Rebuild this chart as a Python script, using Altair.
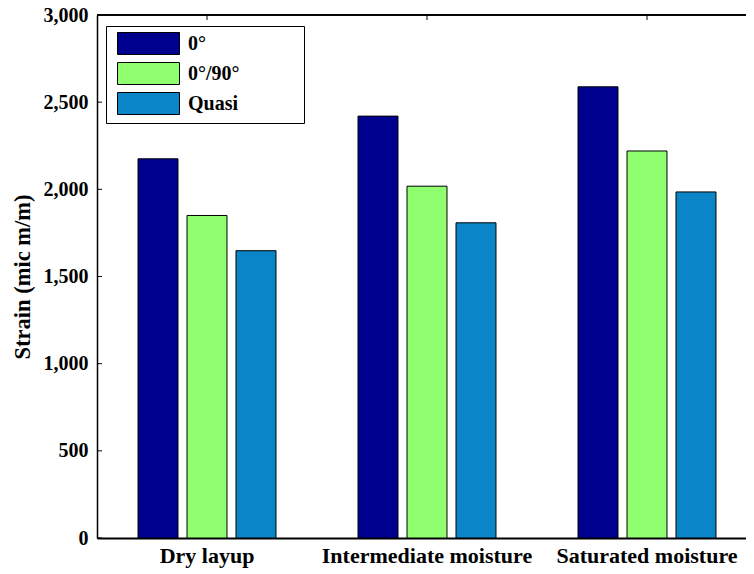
import altair as alt
import pandas as pd

categories = ["Dry layup", "Intermediate moisture", "Saturated moisture"]
series = ["0°", "0°/90°", "Quasi"]
v_0 = [2175, 2420, 2588]
v_090 = [1850, 2018, 2220]
v_quasi = [1648, 1808, 1985]
colors = ["#00008F", "#8FFF6F", "#0A85C8"]
y_ticks = [0, 500, 1000, 1500, 2000, 2500, 3000]

rows = []
for s, vals in zip(series, [v_0, v_090, v_quasi]):
    for c, v in zip(categories, vals):
        rows.append({"cat": c, "series": s, "value": v})
df = pd.DataFrame(rows)
tick_df = pd.DataFrame({"value": y_ticks})
cat_df = pd.DataFrame({"cat": categories})

FONT = "Liberation Serif"
W, H = 649, 523
FULLW = 660

xscale = alt.Scale(domain=categories, paddingInner=0, paddingOuter=0, range=[0, FULLW])
yscale = alt.Scale(domain=[0, 3000], nice=False)

bars = alt.Chart(df).mark_bar(stroke="black", strokeWidth=1).encode(
    x=alt.X("cat:N", scale=xscale, sort=categories,
            axis=alt.Axis(title=None, labelAngle=0, labelPadding=7, labelFontSize=22,
                          domain=True, domainColor="black", domainWidth=2)),
    xOffset=alt.XOffset("series:N", sort=series,
                        scale=alt.Scale(domain=series, paddingInner=0.184, paddingOuter=0.837)),
    y=alt.Y("value:Q", scale=yscale,
            axis=alt.Axis(title="Strain (mic m/m)", values=y_ticks, format=",.0f",
                          labelPadding=9, titlePadding=9, titleFontSize=22.5,
                          domain=True, domainColor="black", domainWidth=1.5)),
    color=alt.Color("series:N", sort=series,
                    scale=alt.Scale(domain=series, range=colors),
                    legend=alt.Legend(title="MMM", titleOrient="right", titlePadding=8,
                                      titleColor="transparent", titleFontSize=20,
                                      orient="none", legendX=9, legendY=11,
                                      labelFont=FONT, labelFontWeight="bold", labelFontSize=20,
                                      labelColor="black",
                                      symbolType="M-2.818,-1H2.818V1H-2.818Z", symbolSize=484,
                                      symbolOffset=25,
                                      symbolStrokeColor="black", symbolStrokeWidth=1,
                                      symbolOpacity=1, rowPadding=3, labelOffset=28,
                                      padding=6, strokeColor="black", fillColor="white")),
)

left_ticks = alt.Chart(tick_df).mark_rule(color="black", strokeWidth=1).encode(
    y=alt.Y("value:Q", scale=yscale), x=alt.value(0), x2=alt.value(5))
top_ticks = alt.Chart(cat_df).mark_rule(color="black", strokeWidth=1).encode(
    x=alt.X("cat:N", scale=xscale, sort=categories, bandPosition=0.5),
    y=alt.value(0), y2=alt.value(5))
top_line = alt.Chart(cat_df).mark_rule(color="black", strokeWidth=1.5).encode(
    x=alt.value(0), x2=alt.value(W), y=alt.value(0))

chart = alt.layer(bars, left_ticks, top_ticks, top_line).properties(
    width=W, height=H,
    autosize=alt.AutoSizeParams(type="none"),
    padding={"left": 89, "top": 7, "right": 0, "bottom": 30},
).configure(background="white").configure_view(
    stroke="transparent"
).configure_axis(
    labelFont=FONT, labelFontWeight="bold", labelFontSize=20, labelColor="black",
    labelLimit=0, titleFont=FONT, titleFontWeight="bold", titleFontSize=19,
    titleColor="black", tickSize=0, grid=False,
)

chart.save("out.html", embed_options={"renderer": "svg", "actions": False})
